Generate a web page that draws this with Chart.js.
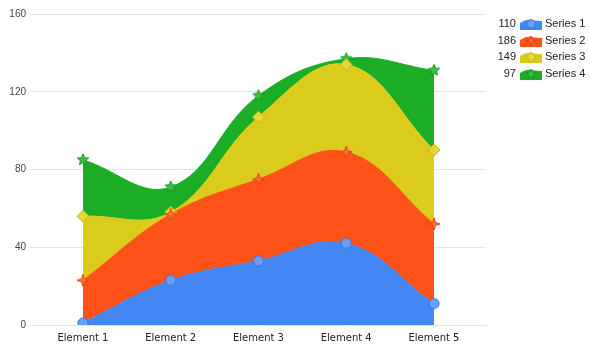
<!DOCTYPE html>
<html>
<head>
<meta charset="utf-8">
<script src="https://cdn.jsdelivr.net/npm/chart.js@4"></script>
<style>
html,body{margin:0;padding:0;background:#fff;}
#wrap{position:relative;width:590px;height:351px;}
#legend{position:absolute;left:490px;top:15px;font-family:"Liberation Sans",Arial,sans-serif;font-size:11px;color:#222;}
.li{display:flex;align-items:center;height:16.5px;}
.li .n{width:26px;text-align:right;margin-right:4px;}
.li canvas{margin-right:3px;}
</style>
</head>
<body>
<div id="wrap">
<canvas id="c" width="590" height="351"></canvas>
<div id="legend"></div>
</div>
<script>
const categories = ["Element 1", "Element 2", "Element 3", "Element 4", "Element 5"];
const seriesNames = ["Series 1", "Series 2", "Series 3", "Series 4"];
const series1 = [1, 23, 33, 42, 11];
const series2 = [22, 34, 42, 47, 41];
const series3 = [33, 1, 32, 45, 38];
const series4 = [29, 13, 11, 3, 41];
const yTicks = [0, 40, 80, 120, 160];

const colors = ["#4486F4", "#FE5218", "#DACB1D", "#1CAD26"];
const markerFill = ["#6a9ff6", "#ff7040", "#e6d63c", "#3dbf45"];
const markerStroke = ["#3a72d8", "#e24510", "#c7b810", "#139a1d"];
const shapes = ["circle", "star4", "diamond", "star5"];

function drawShape(ctx, shape, cx, cy, r) {
  ctx.beginPath();
  if (shape === "circle") {
    ctx.arc(cx, cy, r * 0.85, 0, Math.PI * 2);
  } else if (shape === "diamond") {
    ctx.moveTo(cx, cy - r); ctx.lineTo(cx + r, cy); ctx.lineTo(cx, cy + r); ctx.lineTo(cx - r, cy); ctx.closePath();
  } else {
    const n = shape === "star5" ? 5 : 4;
    const inner = shape === "star5" ? r * 0.45 : r * 0.35;
    for (let i = 0; i < n * 2; i++) {
      const rr = i % 2 === 0 ? r : inner;
      const a = -Math.PI / 2 + i * Math.PI / n;
      const x = cx + rr * Math.cos(a), y = cy + rr * Math.sin(a);
      if (i === 0) ctx.moveTo(x, y); else ctx.lineTo(x, y);
    }
    ctx.closePath();
  }
}

function makeMarker(i) {
  const s = 14;
  const c = document.createElement("canvas");
  c.width = s; c.height = s;
  const ctx = c.getContext("2d");
  drawShape(ctx, shapes[i], s / 2, s / 2, 6);
  ctx.fillStyle = markerFill[i];
  ctx.fill();
  ctx.lineWidth = 1;
  ctx.strokeStyle = markerStroke[i];
  ctx.stroke();
  return c;
}

const allSeries = [series1, series2, series3, series4];
const markers = allSeries.map((_, i) => makeMarker(i));

// legend
const legend = document.getElementById("legend");
allSeries.forEach((arr, i) => {
  const row = document.createElement("div");
  row.className = "li";
  const n = document.createElement("span");
  n.className = "n";
  n.textContent = arr.reduce((a, b) => a + b, 0);
  const ic = document.createElement("canvas");
  ic.width = 22; ic.height = 14;
  const ctx = ic.getContext("2d");
  ctx.beginPath();
  ctx.moveTo(0, 14); ctx.lineTo(0, 7); ctx.quadraticCurveTo(6, 3, 11, 4); ctx.quadraticCurveTo(17, 5, 22, 5); ctx.lineTo(22, 14); ctx.closePath();
  ctx.fillStyle = colors[i]; ctx.fill();
  drawShape(ctx, shapes[i], 11, 8, 5);
  ctx.fillStyle = markerFill[i]; ctx.fill();
  ctx.strokeStyle = markerStroke[i]; ctx.lineWidth = 1; ctx.stroke();
  const t = document.createElement("span");
  t.textContent = seriesNames[i];
  row.appendChild(n); row.appendChild(ic); row.appendChild(t);
  legend.appendChild(row);
});

const datasets = allSeries.map((arr, i) => ({
  label: seriesNames[i],
  data: arr.map((v, j) => ({ x: j, y: v })),
  backgroundColor: colors[i],
  borderColor: colors[i],
  borderWidth: 1,
  fill: i === 0 ? "origin" : "-1",
  tension: 0.4,
  pointStyle: markers[i],
  pointRadius: 6
}));

new Chart(document.getElementById("c"), {
  type: "line",
  data: { datasets },
  options: {
    responsive: false,
    animation: false,
    layout: { padding: { top: 14, right: 104, left: 0, bottom: 0 } },
    plugins: {
      legend: { display: false },
      tooltip: { enabled: false },
      filler: { drawTime: "beforeDatasetsDraw" }
    },
    scales: {
      x: {
        type: "linear",
        min: -0.604,
        max: 4.593,
        afterBuildTicks: (scale) => { scale.ticks = categories.map((_, j) => ({ value: j })); },
        ticks: {
          callback: (v) => categories[v],
          font: { family: "DejaVu Sans", size: 10 },
          color: "#222",
          padding: 4
        },
        grid: { display: true, drawOnChartArea: false, drawTicks: true, tickLength: 3, color: "#e4e4e4" },
        border: { display: true, color: "#e4e4e4" },
        afterFit: (s) => { s.height = 26; }
      },
      y: {
        stacked: true,
        min: 0,
        max: 160,
        afterBuildTicks: (scale) => { scale.ticks = yTicks.map(v => ({ value: v })); },
        ticks: {
          font: { family: "Liberation Sans", size: 10 },
          color: "#444",
          padding: 4
        },
        grid: { color: "#e4e4e4", drawTicks: false },
        border: { display: false },
        afterFit: (s) => { s.width = 30; }
      }
    }
  }
});
</script>
</body>
</html>
